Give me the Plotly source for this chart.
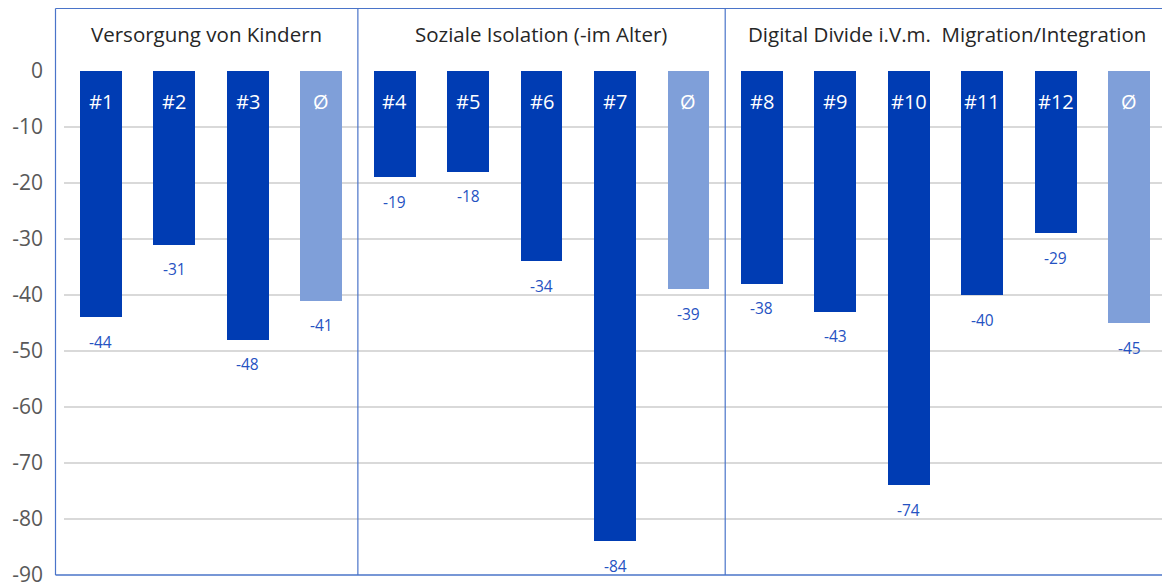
import plotly.graph_objects as go

# ---- data ----
categories = ["#1", "#2", "#3", "Ø1", "#4", "#5", "#6", "#7", "Ø2",
              "#8", "#9", "#10", "#11", "#12", "Ø3"]
bar_labels = ["#1", "#2", "#3", "Ø", "#4", "#5", "#6", "#7", "Ø",
              "#8", "#9", "#10", "#11", "#12", "Ø"]
values = [-44, -31, -48, -41, -19, -18, -34, -84, -39,
          -38, -43, -74, -40, -29, -45]
is_avg = [False, False, False, True, False, False, False, False, True,
          False, False, False, False, False, True]
group_names = ["Versorgung von Kindern", "Soziale Isolation (-im Alter)",
               "Digital Divide i.V.m.  Migration/Integration"]
y_ticks = [0, -10, -20, -30, -40, -50, -60, -70, -80, -90]

# ---- styling ----
DARK = "#003cb3"
LIGHT = "#7f9fd9"
LABEL = "#2552c2"
FRAME = "#4a74c9"
OFF = 8  # page body margin
W, H = 1170 - OFF, 583 - OFF
# page coordinates of plot area: x 64..1166, y 71..575
L, R, T, B = 64 - OFF, W - (1166 - OFF), 71 - OFF, H - (575 - OFF)
pw = W - L - R
ph = H - T - B

def px2paper_x(px):
    return (px - OFF - L) / pw

def py2paper_y(py):
    return (H - B - (py - OFF)) / ph

colors = [LIGHT if a else DARK for a in is_avg]
xs = list(range(len(categories)))

fig = go.Figure()
fig.add_trace(go.Bar(x=xs, y=values, marker=dict(color=colors, line=dict(width=0)),
                     width=0.57, hoverinfo="skip", showlegend=False, cliponaxis=False))

annotations = []
for x, v, lab in zip(xs, values, bar_labels):
    annotations.append(dict(x=x, y=-5.5, xref="x", yref="y", text=lab, showarrow=False,
                            font=dict(family="Open Sans", size=20, color="white")))
    annotations.append(dict(x=x, y=v - 4.4, xref="x", yref="y", text=str(v), showarrow=False,
                            font=dict(family="Open Sans", size=15.5, color=LABEL)))

# group header labels
bounds_px = [55, 357.5, 723.5, 1170]
for i, name in enumerate(group_names):
    cx = (bounds_px[i] + bounds_px[i + 1]) / 2
    annotations.append(dict(x=px2paper_x(cx), y=py2paper_y(34), xref="paper", yref="paper",
                            text=name, showarrow=False, xanchor="center", yanchor="middle",
                            font=dict(family="Open Sans", size=20.5, color="#262626")))

shapes = []
top_y = py2paper_y(8.5)
left_x = px2paper_x(55.5)
shapes.append(dict(type="line", xref="paper", yref="paper", x0=left_x, x1=px2paper_x(1172),
                   y0=top_y, y1=top_y, line=dict(color=FRAME, width=1.2)))
shapes.append(dict(type="line", xref="paper", yref="paper", x0=left_x, x1=left_x,
                   y0=0, y1=top_y, line=dict(color=FRAME, width=1.2)))
shapes.append(dict(type="line", xref="paper", yref="paper", x0=left_x, x1=1,
                   y0=0, y1=0, line=dict(color=FRAME, width=1.5)))
for sx in [3.5, 8.5]:
    shapes.append(dict(type="line", xref="x", yref="paper", x0=sx, x1=sx,
                       y0=0, y1=top_y, line=dict(color=FRAME, width=1.2)))

fig.update_layout(
    width=W, height=H,
    margin=dict(l=L, r=R, t=T, b=B, autoexpand=False),
    plot_bgcolor="white", paper_bgcolor="white",
    bargap=0,
    xaxis=dict(range=[-0.5, len(categories) - 0.5], showticklabels=False, showgrid=False,
               zeroline=False, showline=False, fixedrange=True, automargin=False),
    yaxis=dict(range=[-90, 0], tickvals=y_ticks, ticktext=[str(t) for t in y_ticks],
               showgrid=True, gridcolor="#d9d9d9", gridwidth=1.5, zeroline=False,
               showline=False, ticks="", ticklabelstandoff=20, ticklabeloverflow="allow",
               automargin=False,
               tickfont=dict(family="Open Sans", size=21, color="#595959")),
    annotations=annotations,
    shapes=shapes,
)
fig.write_html("out.html")
